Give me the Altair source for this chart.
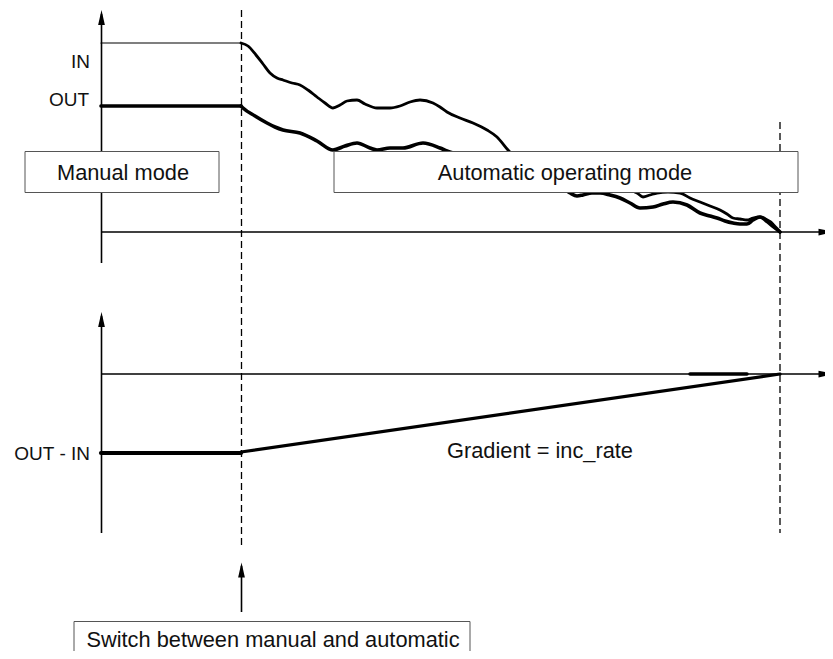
import altair as alt
import pandas as pd

# ---- diagram geometry (in reference pixel units) ----
# IN signal (top panel): flat part then fluctuating decay to zero
in_flat_x = [101, 241]
in_flat_y = [43, 43]
in_x = [241, 248, 256, 263, 270, 277, 283, 292, 300, 308, 317, 325, 333, 340, 347, 357, 365, 377, 390, 400,
        410, 420, 433, 440, 447, 460, 473, 487, 497, 508, 518, 530, 545, 560, 575, 590, 605, 620, 632, 637,
        643, 650, 657, 668, 680, 690, 700, 710, 720, 727, 733, 740, 747, 753, 760, 767, 773, 780]
in_y = [43, 46, 55, 64, 73, 78, 80, 83, 85, 90, 97, 103, 108, 105, 101, 100, 104, 108, 108, 106,
        102, 100, 103, 107, 112, 118, 123, 130, 137, 150, 160, 168, 175, 180, 184, 187, 189, 190, 191, 193,
        197, 195, 193, 192, 193, 198, 202, 206, 210, 214, 218, 219, 220, 218, 217, 222, 227, 232]

# OUT signal (top panel)
out_flat_x = [101, 241]
out_flat_y = [106, 106]
out_x = [241, 243, 255, 267, 275, 283, 300, 317, 333, 345, 357, 370, 377, 390, 403, 423, 440, 447, 460, 480,
         500, 520, 540, 555, 565, 570, 577, 583, 592, 600, 610, 620, 630, 640, 653, 663, 673, 687, 700, 710,
         717, 725, 733, 740, 747, 753, 760, 765, 770, 775, 780]
out_y = [106, 108, 116, 123, 127, 130, 133, 141, 150, 146, 143, 148, 150, 148, 148, 143, 148, 151, 155, 160,
         163, 170, 178, 185, 190, 193, 196, 195, 193, 193, 195, 198, 203, 208, 207, 204, 202, 205, 213, 216,
         218, 221, 223, 224, 224, 220, 217, 219, 222, 227, 232]

# OUT - IN (bottom panel)
diff_flat_x = [101, 241]
diff_flat_y = [453, 453]
diff_ramp_x = [241, 780]
diff_ramp_y = [452, 374]

# axes (lines): x, y, x2, y2
axis_x1 = [101.5, 101, 101.5, 101, 241.5]
axis_y1 = [263, 232, 533, 374, 612]
axis_x2 = [101.5, 826, 101.5, 826, 241.5]
axis_y2 = [14, 232, 316, 374, 566]
# arrow heads: centre x, y, angle
head_x = [101.5, 826, 101.5, 826, 241.5]
head_y = [17.5, 232, 319.5, 374, 570]
head_angle = [0, 90, 0, 90, 0]

# thick overlay on lower axis
over_x = [690, 747]
over_y = [374, 374]

# dashed verticals
dash_x = [241.5, 780]
dash_y1 = [10, 122]
dash_y2 = [548, 533]

# boxes
box_x1 = [25, 334, 74]
box_x2 = [219, 798, 470]
box_y1 = [151.5, 151.5, 621.5]
box_y2 = [192.5, 192.5, 670]
box_text = ["Manual mode", "Automatic operating mode", "Switch between manual and automatic"]
box_tx = [123, 565, 273]
box_ty = [180, 180, 647]

# axis labels
lab_text = ["IN", "OUT", "OUT - IN"]
lab_x = [90, 89, 90]
lab_y = [67.5, 105.5, 460]

grad_text = ["Gradient = inc_rate"]
grad_x = [540]
grad_y = [458]

FONT = "Liberation Sans"

xs = alt.Scale(domain=[8, 825], nice=False, zero=False)
ys = alt.Scale(domain=[8, 651], nice=False, zero=False, reverse=True)


def line(xv, yv, w, interp="linear"):
    df = pd.DataFrame({"x": xv, "y": yv, "o": list(range(len(xv)))})
    return alt.Chart(df).mark_line(
        color="black", strokeWidth=w, strokeJoin="round", strokeCap="round", interpolate=interp
    ).encode(
        x=alt.X("x:Q", scale=xs, axis=None),
        y=alt.Y("y:Q", scale=ys, axis=None),
        order="o:Q",
    )


axes_df = pd.DataFrame({"x": axis_x1, "y": axis_y1, "x2": axis_x2, "y2": axis_y2})
axes = alt.Chart(axes_df).mark_rule(color="black", strokeWidth=1.6).encode(
    x=alt.X("x:Q", scale=xs, axis=None), y=alt.Y("y:Q", scale=ys, axis=None), x2="x2:Q", y2="y2:Q"
)

heads_df = pd.DataFrame({"x": head_x, "y": head_y, "a": head_angle})
heads = alt.Chart(heads_df).mark_point(
    shape="M0,-1L0.45,1L-0.45,1Z", filled=True, color="black", size=225, opacity=1
).encode(
    x=alt.X("x:Q", scale=xs, axis=None), y=alt.Y("y:Q", scale=ys, axis=None),
    angle=alt.Angle("a:Q", scale=None),
)

dash_df = pd.DataFrame({"x": dash_x, "y": dash_y1, "y2": dash_y2})
dashes = alt.Chart(dash_df).mark_rule(color="black", strokeWidth=1.3, strokeDash=[7, 4]).encode(
    x=alt.X("x:Q", scale=xs, axis=None), y=alt.Y("y:Q", scale=ys, axis=None), y2="y2:Q"
)

box_df = pd.DataFrame({"x": box_x1, "x2": box_x2, "y": box_y1, "y2": box_y2})
boxes = alt.Chart(box_df).mark_rect(fill="white", stroke="#555555", strokeWidth=1).encode(
    x=alt.X("x:Q", scale=xs, axis=None), y=alt.Y("y:Q", scale=ys, axis=None), x2="x2:Q", y2="y2:Q"
)

btext_df = pd.DataFrame({"x": box_tx, "y": box_ty, "t": box_text})
btext = alt.Chart(btext_df).mark_text(
    font=FONT, fontSize=21.8, align="center", baseline="alphabetic", color="#111111"
).encode(x=alt.X("x:Q", scale=xs, axis=None), y=alt.Y("y:Q", scale=ys, axis=None), text="t:N")

lab_df = pd.DataFrame({"x": lab_x, "y": lab_y, "t": lab_text})
labs = alt.Chart(lab_df).mark_text(
    font=FONT, fontSize=19, align="right", baseline="alphabetic", color="#111111"
).encode(x=alt.X("x:Q", scale=xs, axis=None), y=alt.Y("y:Q", scale=ys, axis=None), text="t:N")

grad_df = pd.DataFrame({"x": grad_x, "y": grad_y, "t": grad_text})
grad = alt.Chart(grad_df).mark_text(
    font=FONT, fontSize=21.8, align="center", baseline="alphabetic", color="#111111"
).encode(x=alt.X("x:Q", scale=xs, axis=None), y=alt.Y("y:Q", scale=ys, axis=None), text="t:N")

chart = alt.layer(
    axes,
    heads,
    line(over_x, over_y, 3.5),
    dashes,
    line(in_flat_x, in_flat_y, 1.2),
    line(in_x, in_y, 2.8, "monotone"),
    line(out_flat_x, out_flat_y, 3.6),
    line(out_x, out_y, 3.6, "monotone"),
    line(diff_flat_x, diff_flat_y, 4.2),
    line(diff_ramp_x, diff_ramp_y, 3.2),
    boxes,
    btext,
    labs,
    grad,
).properties(
    width=817, height=643, autosize=alt.AutoSizeParams(type="none"), padding=0, background="white"
).configure_view(stroke=None)

chart.save("out.html", embed_options={"renderer": "svg", "actions": False})
